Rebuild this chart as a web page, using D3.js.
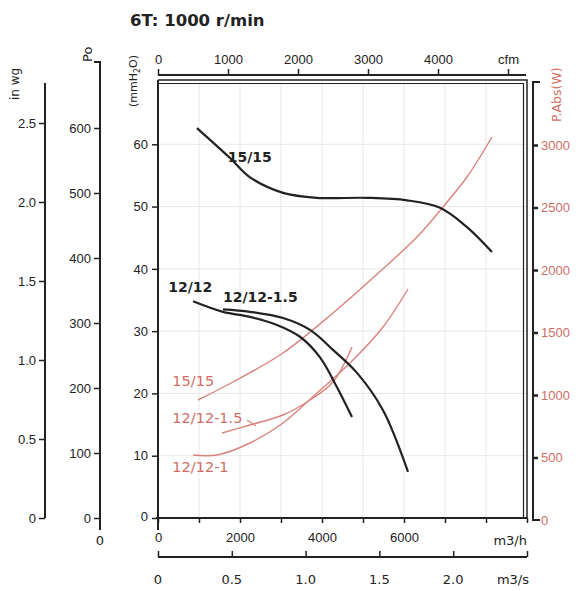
<!DOCTYPE html>
<html>
<head>
<meta charset="utf-8">
<script src="https://cdn.jsdelivr.net/npm/d3@7"></script>
<style>
  body { margin: 0; background: #fff; }
  svg { display: block; font-family: "DejaVu Sans", Verdana, sans-serif; }
</style>
</head>
<body>
<div id="chart"></div>
<script>
// pressure curves (m3/h, mmH2O)
const press1515 = [[950, 62.6], [1756, 57.8], [2244, 54.7], [3049, 52.2], [3878, 51.4], [5100, 51.4], [6073, 51.0], [6878, 49.8], [7537, 46.7], [8146, 42.7]];
const press1212 = [[854, 34.8], [1585, 33.1], [2244, 32.3], [2902, 31.0], [3463, 29.1], [3951, 25.8], [4366, 21.0], [4732, 16.2]];
const press121215 = [[1585, 33.5], [2244, 33.1], [3049, 32.1], [3707, 30.2], [4268, 27.0], [4854, 23.3], [5488, 17.3], [6098, 7.4]];
// absorbed power curves (m3/h, W)
const pow1515 = [[976, 960], [1829, 1104], [3049, 1336], [4268, 1656], [5488, 2010], [6317, 2264], [6951, 2504], [7537, 2744], [8146, 3064]];
const pow121215 = [[1561, 696], [2244, 760], [3049, 840], [3707, 960], [4268, 1104], [4732, 1384]];
const pow12121 = [[854, 520], [1439, 520], [2244, 616], [3049, 776], [3878, 1016], [4683, 1256], [5488, 1544], [6098, 1848]];

const m3hTicks = [0, 2000, 4000, 6000];
const m3sTicks = [0, 0.5, 1.0, 1.5, 2.0];
const cfmTicks = [0, 1000, 2000, 3000, 4000];
const mmTicks = [0, 10, 20, 30, 40, 50, 60];
const paTicks = [0, 100, 200, 300, 400, 500, 600];
const wgTicks = [0, 0.5, 1.0, 1.5, 2.0, 2.5];
const pwTicks = [0, 500, 1000, 1500, 2000, 2500, 3000];

const W = 584, H = 591;
const ink = '#222', red = '#d9837d', redText = '#d06d66';
const fs = 13;

const svg = d3.select('#chart').append('svg').attr('width', W).attr('height', H);

const x = d3.scaleLinear().domain([0, 9000]).range([158, 527]);
const xs = d3.scaleLinear().domain([0, 2.5]).range([158, 527]);
const xc = d3.scaleLinear().domain([0, 5000]).range([158, 508]);
const y = d3.scaleLinear().domain([0, 70]).range([518, 82]);
const yp = d3.scaleLinear().domain([0, 3500]).range([520, 82.5]);
const ypa = d3.scaleLinear().domain([0, 600]).range([518, 128]);
const ywg = d3.scaleLinear().domain([0, 2.5]).range([518, 123]);

// title
svg.append('text').attr('x', 130).attr('y', 26)
  .attr('font-size', 16.5).attr('font-weight', 'bold').attr('fill', ink)
  .text('6T: 1000 r/min');

// grid
const grid = svg.append('g').attr('stroke', '#e8e8e8').attr('stroke-width', 1);
grid.selectAll('line.v').data(d3.range(1000, 9000, 1000)).join('line')
  .attr('x1', d => x(d)).attr('x2', d => x(d)).attr('y1', y(70)).attr('y2', y(0));
grid.selectAll('line.h').data(mmTicks.slice(1)).join('line')
  .attr('x1', x(0)).attr('x2', x(9000)).attr('y1', d => y(d)).attr('y2', d => y(d));

function styleAxis(g, color) {
  g.selectAll('.domain').remove();
  g.selectAll('.tick line').attr('stroke', color).attr('stroke-width', 1.5);
  g.selectAll('.tick text').attr('fill', color).attr('font-size', fs).attr('font-family', null);
}

// frame
const frame = svg.append('g').attr('fill', 'none').attr('stroke', ink);
frame.append('line').attr('x1', x(0)).attr('x2', x(0)).attr('y1', 80).attr('y2', 530).attr('stroke-width', 2);
frame.append('line').attr('x1', 156).attr('x2', 527).attr('y1', y(0)).attr('y2', y(0)).attr('stroke-width', 2);
frame.append('path').attr('d', `M158,80H527V518`).attr('stroke-width', 1.5);
frame.append('path').attr('d', `M158,83.5H523.5V518`).attr('stroke-width', 1.2);

// bottom m3/h axis
const gx = svg.append('g').attr('transform', `translate(0,${y(0)})`)
  .call(d3.axisBottom(x).tickValues(d3.range(0, 10000, 1000)).tickSize(5).tickPadding(7)
    .tickFormat(d => m3hTicks.includes(d) ? d : ''));
styleAxis(gx, ink);
gx.selectAll('.tick text').attr('dy', '0.9em');
svg.append('text').attr('x', x(9000)).attr('y', 545).attr('text-anchor', 'end')
  .attr('font-size', fs).attr('fill', ink).text('m3/h');

// m3/s axis
const gs = svg.append('g').attr('transform', 'translate(0,557)')
  .call(d3.axisTop(xs).tickValues([...m3sTicks, 2.5]).tickSize(6).tickFormat(''));
styleAxis(gs, ink);
gs.append('line').attr('x1', xs(0)).attr('x2', xs(2.5)).attr('stroke', ink).attr('stroke-width', 2);
svg.append('g').selectAll('text').data(m3sTicks).join('text')
  .attr('x', d => xs(d)).attr('y', 584).attr('text-anchor', 'middle')
  .attr('font-size', fs).attr('fill', ink).text(d => d === 0 ? '0' : d3.format('.1f')(d));
svg.append('text').attr('x', xs(2.5) + 2).attr('y', 584).attr('text-anchor', 'end')
  .attr('font-size', fs).attr('fill', ink).text('m3/s');

// cfm axis
const gc = svg.append('g').attr('transform', 'translate(0,75)')
  .call(d3.axisTop(xc).tickValues([...cfmTicks, 5000]).tickSize(6).tickPadding(5)
    .tickFormat(d => d === 5000 ? 'cfm' : d));
styleAxis(gc, ink);
gc.append('line').attr('x1', xc(0)).attr('x2', 526).attr('stroke', ink).attr('stroke-width', 2);

// mmH2O axis
const gy = svg.append('g').attr('transform', `translate(${x(0)},0)`)
  .call(d3.axisLeft(y).tickValues(mmTicks).tickSize(6).tickPadding(4));
styleAxis(gy, ink);
gy.selectAll('.tick').filter(d => d === 0).select('text').attr('dy', '0.2em');
svg.append('text').attr('transform', 'translate(137,107) rotate(-90)')
  .attr('font-size', 11).attr('fill', ink)
  .html('(mmH<tspan font-size="8" dy="3">2</tspan><tspan dy="-3">O)</tspan>');

// Pa axis
const gpa = svg.append('g').attr('transform', 'translate(100,0)')
  .call(d3.axisLeft(ypa).tickValues(paTicks).tickSize(6).tickPadding(3));
styleAxis(gpa, ink);
gpa.append('path').attr('d', 'M-6,62H0V530').attr('fill', 'none').attr('stroke', ink).attr('stroke-width', 2);
svg.append('text').attr('x', 100).attr('y', 545).attr('text-anchor', 'middle')
  .attr('font-size', fs).attr('fill', ink).text('0');
svg.append('text').attr('transform', 'translate(92,62) rotate(-90)')
  .attr('font-size', fs).attr('fill', ink).text('Po');

// in wg axis
const gwg = svg.append('g').attr('transform', 'translate(45,0)')
  .call(d3.axisLeft(ywg).tickValues(wgTicks).tickSize(6).tickPadding(3)
    .tickFormat(d => d === 0 ? '0' : d3.format('.1f')(d)));
styleAxis(gwg, ink);
gwg.append('line').attr('y1', 83).attr('y2', 518).attr('stroke', ink).attr('stroke-width', 2);
svg.append('text').attr('transform', 'translate(19,100) rotate(-90)')
  .attr('font-size', 12).attr('fill', ink).text('in wg');

// power axis (right)
const gp = svg.append('g').attr('transform', 'translate(533,0)')
  .call(d3.axisRight(yp).tickValues(pwTicks).tickSize(5).tickPadding(3).tickFormat(d3.format('d')));
styleAxis(gp, redText);
gp.selectAll('.tick line').attr('stroke', ink).attr('stroke-width', 2.5);
gp.selectAll('.tick').filter(d => d === 0).select('line').attr('stroke', 'none');
gp.append('path').attr('d', `M7,82H0V${yp(0)}H7`).attr('fill', 'none').attr('stroke', ink).attr('stroke-width', 2);
svg.append('text').attr('transform', 'translate(561,122) rotate(-90)')
  .attr('font-size', 12.5).attr('fill', redText).text('P.Abs(W)');

// curves
const lineP = d3.line().x(d => x(d[0])).y(d => y(d[1])).curve(d3.curveCatmullRom);
const lineW = d3.line().x(d => x(d[0])).y(d => yp(d[1])).curve(d3.curveCatmullRom);
const curves = svg.append('g').attr('fill', 'none');
[pow1515, pow121215, pow12121].forEach(s =>
  curves.append('path').attr('d', lineW(s)).attr('stroke', red).attr('stroke-width', 1.4));
[press1515, press1212, press121215].forEach(s =>
  curves.append('path').attr('d', lineP(s)).attr('stroke', ink).attr('stroke-width', 2.2));

// leader for red 12/12-1.5 label
curves.append('line').attr('x1', x(2170)).attr('y1', yp(800)).attr('x2', x(2390)).attr('y2', yp(752))
  .attr('stroke', red).attr('stroke-width', 1.2);

// labels
const labels = svg.append('g').attr('font-size', 14);
labels.append('text').attr('x', x(1700)).attr('y', y(57.1)).attr('font-weight', 'bold').attr('fill', ink).text('15/15');
labels.append('text').attr('x', x(250)).attr('y', y(36.3)).attr('font-weight', 'bold').attr('fill', ink).text('12/12');
labels.append('text').attr('x', x(1585)).attr('y', y(34.7)).attr('font-weight', 'bold').attr('fill', ink).text('12/12-1.5');
labels.append('text').attr('x', x(350)).attr('y', yp(1072)).attr('font-size', 14.5).attr('fill', redText).text('15/15');
labels.append('text').attr('x', x(350)).attr('y', yp(780)).attr('font-size', 14.5).attr('fill', redText).text('12/12-1.5');
labels.append('text').attr('x', x(350)).attr('y', yp(384)).attr('font-size', 14.5).attr('fill', redText).text('12/12-1');
</script>
</body>
</html>
